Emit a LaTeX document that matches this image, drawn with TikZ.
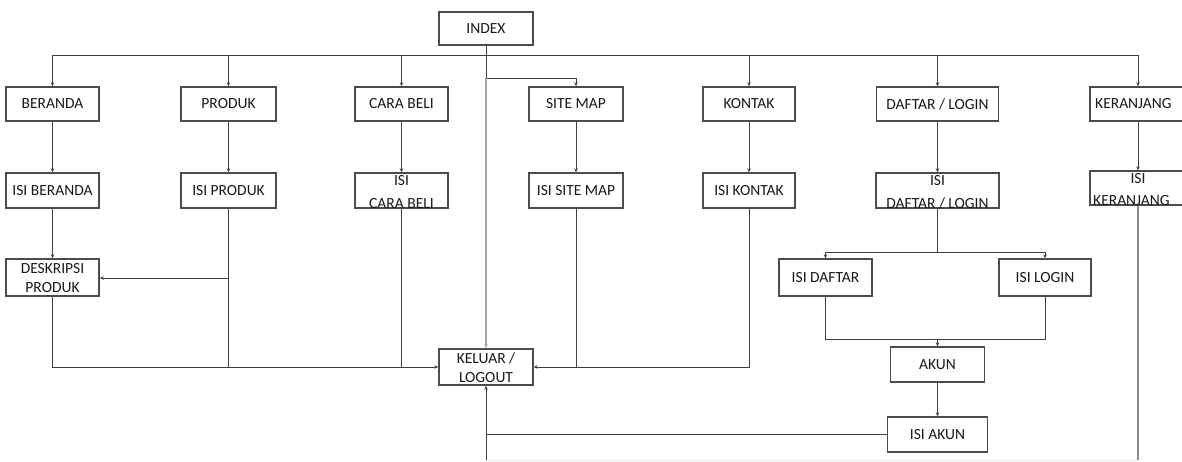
\documentclass[tikz,border=0pt]{standalone}
\usepackage{fontspec}
\setmainfont{Carlito}
\usetikzlibrary{arrows.meta}
\tikzset{
  box/.style={draw=black!70, line width=1.4pt, fill=white, inner sep=0pt, minimum height=#1},
  box/.default=33,
  lbl/.style={inner sep=0pt, text=black!90, font=\fontsize{15.5}{17}\selectfont},
  ln/.style={draw=black!75, line width=1pt},
  arr/.style={ln, -{Stealth[length=4pt,width=3.5pt]}},
  gln/.style={draw=black!35, line width=1.4pt, -{Stealth[length=4pt,width=3.5pt]}},
  kln/.style={draw=black!45, line width=1.5pt},
  fln/.style={draw=black!10, line width=1pt},
}
\begin{document}
\begin{tikzpicture}[x=1pt,y=-1pt]
\useasboundingbox (0,0) rectangle (1182,461);
% top
\node[box, minimum width=94] (index) at (486,28.5) {};
\node[lbl] (tindex) at (index) {INDEX};
% row 1
\node[box=34, minimum width=93] (beranda) at (52.5,104) {};
\node[lbl] (tberanda) at (beranda) {BERANDA};
\node[box=34, minimum width=95] (produk) at (228.5,104) {};
\node[lbl] (tproduk) at (produk) {PRODUK};
\node[box=34, minimum width=93] (carabeli) at (401.5,104) {};
\node[lbl] (tcarabeli) at (carabeli) {CARA BELI};
\node[box=34, minimum width=94] (sitemap) at (576,104) {};
\node[lbl] (tsitemap) at (sitemap) {SITE MAP};
\node[box=34, minimum width=92] (kontak) at (749,104) {};
\node[lbl] (tkontak) at (kontak) {KONTAK};
\node[box=34, minimum width=122] (daftar) at (937.5,104) {};
\node[lbl] (tdaftar) at (daftar) {DAFTAR / LOGIN};
\node[box=34, minimum width=96] (keranjang) at (1138,104) {};
\node[lbl, anchor=west] (tkeranjang) at (1095,104) {KERANJANG};
% row 2
\node[box=35, minimum width=93] (isiberanda) at (52.5,190.5) {};
\node[lbl] (tisiberanda) at (isiberanda) {ISI BERANDA};
\node[box=35, minimum width=95] (isiproduk) at (228.5,190.5) {};
\node[lbl] (tisiproduk) at (isiproduk) {ISI PRODUK};
\node[box=35, minimum width=93] (isicarabeli) at (401.5,190.5) {};
\node[lbl] (tisicarabeli1) at (401.5,181) {ISI};
\node[lbl] (tisicarabeli2) at (401.5,203.5) {CARA BELI};
\node[box=35, minimum width=94] (isisitemap) at (576,190.5) {};
\node[lbl] (tisisitemap) at (isisitemap) {ISI SITE MAP};
\node[box=35, minimum width=92] (isikontak) at (749,190.5) {};
\node[lbl] (tisikontak) at (isikontak) {ISI KONTAK};
\node[box=35, minimum width=123] (isidaftar) at (937.5,190.5) {};
\node[lbl] (tisidaftar1) at (937.5,181) {ISI};
\node[lbl] (tisidaftar2) at (937.5,203.5) {DAFTAR / LOGIN};
\node[box=34, minimum width=96] (isikeranjang) at (1138,188) {};
\node[lbl] (tisikeranjang1) at (1138,178.5) {ISI};
\node[lbl, anchor=west] (tisikeranjang2) at (1093,201) {KERANJANG};
% lower left
\node[box=37, minimum width=93] (deskripsi) at (52.5,277.5) {};
\node[lbl] (tdeskripsi1) at (52.5,269) {DESKRIPSI};
\node[lbl] (tdeskripsi2) at (52.5,287.5) {PRODUK};
\node[box=36, minimum width=94] (keluar) at (486,367) {};
\node[lbl] (tkeluar1) at (486,358.5) {KELUAR /};
\node[lbl] (tkeluar2) at (486,377.5) {LOGOUT};
% lower right
\node[box=37, minimum width=93] (isidaftar2) at (825.5,277.5) {};
\node[lbl] (tisidaftar3) at (isidaftar2) {ISI DAFTAR};
\node[box=37, minimum width=92] (isilogin) at (1045,277.5) {};
\node[lbl] (tisilogin) at (isilogin) {ISI LOGIN};
\node[box=35, minimum width=94] (akun) at (937.5,364.5) {};
\node[lbl] (takun) at (akun) {AKUN};
\node[box=35, minimum width=100] (isiakun) at (937.5,434.5) {};
\node[lbl] (tisiakun) at (isiakun) {ISI AKUN};

% coordinates
\coordinate (bus) at (0,55);
\coordinate (turn) at (0,78);
\coordinate (lowbus) at (0,367);
\coordinate (dbus) at (0,252);
\coordinate (jbus) at (0,339);
\coordinate (akbus) at (0,433);
\coordinate (fbus) at (0,460);
\coordinate (dbranch) at (0,278);

% top bus
\draw[ln] (beranda.north |- bus) -- (keranjang.north |- bus);
\foreach \n in {beranda,produk,carabeli,kontak,daftar,keranjang}
  \draw[arr] (\n.north |- bus) -- (\n.north);
\draw[ln] (index.south) -- (index.south |- turn);
\draw[arr] (index.south |- turn) -| (sitemap.north);
\draw[gln] (index.south |- turn) -- (keluar.north);

% row1 -> row2
\foreach \a/\b in {beranda/isiberanda,produk/isiproduk,carabeli/isicarabeli,sitemap/isisitemap,kontak/isikontak,daftar/isidaftar,keranjang/isikeranjang}
  \draw[arr] (\a.south) -- (\b.north);

% left group
\draw[arr] (isiberanda.south) -- (deskripsi.north);
\draw[ln] (isiproduk.south) -- (isiproduk.south |- lowbus);
\draw[arr] (isiproduk.south |- dbranch) -- (deskripsi.east |- dbranch);
\draw[arr] (deskripsi.south) |- (keluar.west);
\draw[ln] (isicarabeli.south) -- (isicarabeli.south |- lowbus);
% right group
\draw[arr] (isikontak.south) |- (keluar.east);
\draw[ln] (isisitemap.south) -- (isisitemap.south |- lowbus);

% daftar / login
\draw[ln] (isidaftar.south) -- (isidaftar.south |- dbus);
\draw[arr] (isidaftar.south |- dbus) -| (isidaftar2.north);
\draw[arr] (isidaftar.south |- dbus) -| (isilogin.north);
\draw[ln] (isidaftar2.south) |- (isilogin.south |- jbus) -- (isilogin.south);
\draw[arr] (akun.north |- jbus) -- (akun.north);
\draw[arr] (akun.south) -- (isiakun.north);
\draw[arr] (isiakun.west) -| (keluar.south);

% keranjang down
\draw[kln] (isikeranjang.south) -- (isikeranjang.south |- fbus);
\draw[fln] (isikeranjang.south |- fbus) -- (keluar.south |- fbus);
\draw[ln] (keluar.south |- akbus) -- (keluar.south |- fbus);
\end{tikzpicture}
\end{document}
